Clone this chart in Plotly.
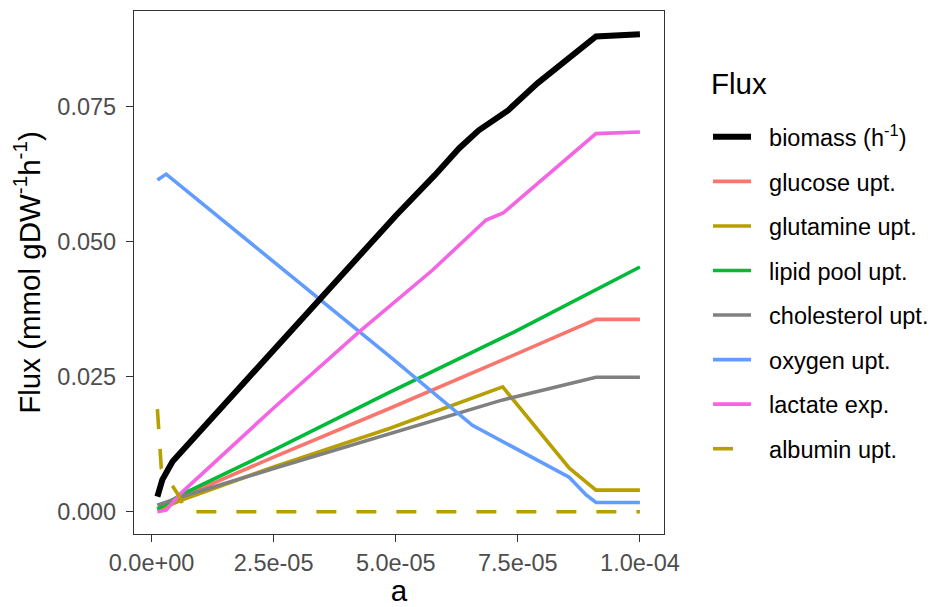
import plotly.graph_objects as go

# ---- data ----
biomass_x = [1.2e-6, 2.2e-6, 4.3e-6, 7.7e-6, 1.8e-5, 2.8e-5, 3.4e-5, 4.3e-5, 5.0e-5, 5.8e-5, 6.3e-5, 6.7e-5, 7.3e-5, 7.9e-5, 8.55e-5, 9.1e-5, 1.0e-4]
biomass_y = [0.0028, 0.0059, 0.0093, 0.0127, 0.0228, 0.0330, 0.0392, 0.0478, 0.0548, 0.0623, 0.0673, 0.0706, 0.0743, 0.0793, 0.0839, 0.0880, 0.0884]

glucose_x = [1.2e-6, 6.0e-6, 2.5e-5, 4.87e-5, 7.19e-5, 9.1e-5, 1.0e-4]
glucose_y = [0.0005, 0.0027, 0.0101, 0.0191, 0.0281, 0.0356, 0.0356]

glutamine_x = [1.2e-6, 6.3e-6, 2.5e-5, 4.87e-5, 7.19e-5, 8.55e-5, 9.1e-5, 1.0e-4]
glutamine_y = [0.0003, 0.0022, 0.0083, 0.0154, 0.0231, 0.0081, 0.0040, 0.0040]

lipid_x = [1.2e-6, 6.0e-6, 2.5e-5, 4.87e-5, 7.43e-5, 1.0e-4]
lipid_y = [0.0005, 0.0031, 0.0114, 0.0221, 0.0333, 0.0453]

cholesterol_x = [1.2e-6, 6.3e-6, 2.5e-5, 4.87e-5, 7.19e-5, 9.1e-5, 1.0e-4]
cholesterol_y = [0.0012, 0.0028, 0.0080, 0.0145, 0.0207, 0.0249, 0.0249]

oxygen_x = [1.2e-6, 3.0e-6, 4.87e-5, 6.57e-5, 8.55e-5, 8.9e-5, 9.1e-5, 1.0e-4]
oxygen_y = [0.0614, 0.0625, 0.0288, 0.0160, 0.0064, 0.0031, 0.0017, 0.0017]

lactate_x = [1.2e-6, 3.0e-6, 6.0e-6, 2.5e-5, 4.25e-5, 4.87e-5, 5.75e-5, 6.85e-5, 7.2e-5, 9.1e-5, 1.0e-4]
lactate_y = [0.0, 0.0003, 0.0034, 0.0192, 0.0333, 0.0381, 0.0447, 0.0540, 0.0553, 0.0700, 0.0703]

albumin_x = [1.2e-6, 2.0e-6, 5.7e-6, 7.0e-6, 1.0e-4]
albumin_y = [0.0190, 0.0080, 0.0028, 0.0, 0.0]

x_tickvals = [0.0, 2.5e-5, 5.0e-5, 7.5e-5, 1.0e-4]
x_ticktext = ["0.0e+00", "2.5e-05", "5.0e-05", "7.5e-05", "1.0e-04"]
y_tickvals = [0.0, 0.025, 0.05, 0.075]
y_ticktext = ["0.000", "0.025", "0.050", "0.075"]

FONT = "Arial, 'Liberation Sans', sans-serif"
PAD = "\u00a0\u00a0"

series = [
    ("glucose upt.", glucose_x, glucose_y, "#F8766D", 3.6, "solid", 2),
    ("glutamine upt.", glutamine_x, glutamine_y, "#B79F00", 3.6, "solid", 3),
    ("lipid pool upt.", lipid_x, lipid_y, "#00BA38", 3.6, "solid", 4),
    ("cholesterol upt.", cholesterol_x, cholesterol_y, "#808080", 3.6, "solid", 5),
    ("oxygen upt.", oxygen_x, oxygen_y, "#619CFF", 3.6, "solid", 6),
    ("lactate exp.", lactate_x, lactate_y, "#F564E3", 3.6, "solid", 7),
    ("albumin upt.", albumin_x, albumin_y, "#B79F00", 3.6, "20px,20px", 8),
    ("biomass (h<sup>-1</sup>)", biomass_x, biomass_y, "#000000", 6, "solid", 1),
]

fig = go.Figure()
for name, xs, ys, col, w, dash, rank in series:
    fig.add_trace(go.Scatter(
        x=xs, y=ys, mode="lines", name=PAD + name,
        line=dict(color=col, width=w, dash=dash),
        legendrank=rank, legendgroup=name,
    ))

fig.update_layout(
    width=931, height=607,
    margin=dict(l=134, r=267, t=11, b=73),
    paper_bgcolor="white", plot_bgcolor="white",
    font=dict(family=FONT, color="#000000"),
    legend=dict(
        xref="container", x=708 / 931, xanchor="left",
        y=0.801, yanchor="top",
        font=dict(size=23.5, color="#000000"),
        tracegroupgap=11, itemwidth=38,
        bgcolor="rgba(0,0,0,0)",
    ),
    annotations=[dict(
        text="Flux", xref="paper", yref="paper", x=1.0849, y=0.862,
        xanchor="left", yanchor="middle", showarrow=False,
        font=dict(size=29.5, color="#000000"),
    )],
)

fig.update_xaxes(
    range=[-3.59e-6, 1.0493e-4], automargin=False,
    tickvals=x_tickvals, ticktext=x_ticktext,
    tickfont=dict(size=23.5, color="#4D4D4D"),
    ticks="outside", ticklen=7, tickwidth=1.3, tickcolor="#333333",
    showline=True, mirror=True, linecolor="#333333", linewidth=1.3,
    showgrid=False, zeroline=False, ticklabelstandoff=1,
    title=dict(text="a", font=dict(size=29.5, color="#000000"), standoff=4),
)
fig.update_yaxes(
    range=[-0.00413, 0.0927], automargin=False,
    tickvals=y_tickvals, ticktext=y_ticktext,
    tickfont=dict(size=23.5, color="#4D4D4D"),
    ticks="outside", ticklen=7, tickwidth=1.3, tickcolor="#333333",
    showline=True, mirror=True, linecolor="#333333", linewidth=1.3,
    showgrid=False, zeroline=False, ticklabelstandoff=5,
    title=dict(text="Flux (mmol gDW<sup>-1</sup>h<sup>-1</sup>)", font=dict(size=29.5, color="#000000"), standoff=8),
)

fig.write_html("out.html")
